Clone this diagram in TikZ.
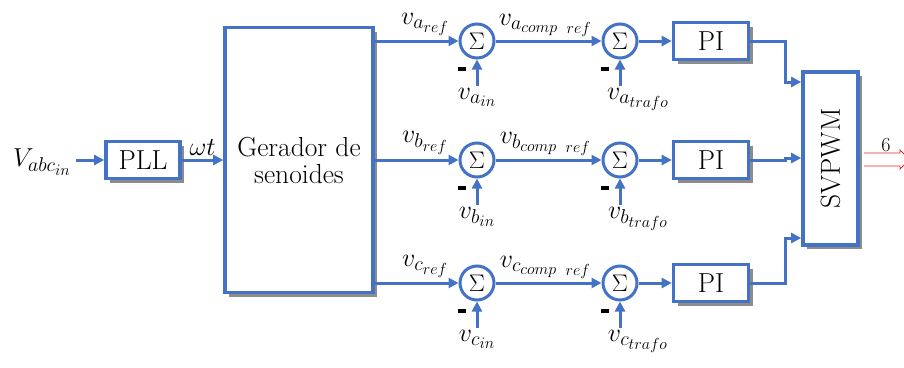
\RequirePackage{fix-cm}
\documentclass[tikz,border=0pt]{standalone}
\usepackage{fontspec}
\usetikzlibrary{arrows.meta,shadows,calc}
\DeclareMathSizes{26}{26}{20}{16}
\definecolor{bl}{HTML}{4472C4}
\definecolor{rd}{HTML}{E8262A}
\begin{document}
\begin{tikzpicture}[x=1pt,y=-1pt,
  blk/.style={draw=bl,line width=3.6pt,fill=white,inner sep=0pt,
    drop shadow={shadow xshift=4pt,shadow yshift=-4pt,fill=gray!90,opacity=1},
    font=\fontsize{27.5}{30}\selectfont},
  sumn/.style={circle,draw=bl,line width=3pt,fill=white,minimum size=34pt,inner sep=0pt,
    font=\fontsize{24}{26}\selectfont},
  ln/.style={draw=bl,line width=3pt},
  arr/.style={ln,-{Triangle[length=10pt,width=10pt]}},
  lbl/.style={font=\fontsize{26}{30}\selectfont,inner sep=0pt},
  mns/.style={inner sep=0pt}]
\useasboundingbox (0,0) rectangle (904,367);

\node[lbl] (vin) at (42,162) {$V_{abc_{in}}$};
\node[blk,minimum width=74pt,minimum height=37pt] (pll) at (143,160) {PLL};
\node[blk,minimum width=148pt,minimum height=265pt,align=center] (gen) at (299,160) {Gerador de\\[-3pt]senoides};
\node[blk,minimum width=55pt,minimum height=173pt] (svp) at (830.5,158.5) {\rotatebox{90}{SVPWM}};

\draw[arr] (vin.east)+(5,-2) -- (pll.west);
\draw[arr] (pll.east) -- (gen.west |- pll.east) node[lbl,midway,above=3pt] (wt) {$\omega t$};

\foreach \r/\y/\q in {a/41/82, b/160/158, c/283/238}{
  \node[sumn] (s1\r) at (477,\y) {$\Sigma$};
  \node[sumn] (s2\r) at (620,\y) {$\Sigma$};
  \node[blk,minimum width=75pt,minimum height=37pt] (pi\r) at (711,\y) {PI};
  \draw[arr] (gen.east |- s1\r) -- (s1\r.west)
     node[lbl,pos=0.6,above=4pt] (ref\r) {$v_{\r_{ref}}$};
  \draw[arr] (s1\r.east) -- (s2\r.west)
     node[lbl,pos=0.47,above=3pt] (cmp\r) {$v_{\r_{comp}{}_{\;\;ref}}$};
  \draw[arr] (s2\r.east) -- (pi\r.west);
  \coordinate (b1\r) at ($(s1\r.center)+(0,45)$);
  \coordinate (b2\r) at ($(s2\r.center)+(0,45)$);
  \draw[arr] (b1\r) -- (s1\r.south);
  \draw[arr] (b2\r) -- (s2\r.south);
  \node[lbl,below=2pt] (in\r) at (b1\r) {$v_{\r_{in}}$};
  \node[lbl,below=2pt,xshift=18pt] (tr\r) at (b2\r) {$v_{\r_{trafo}}$};
  \node[mns] (m1\r) at ($(s1\r.center)+(-15,28)$) {\rule{8pt}{3.5pt}};
  \node[mns] (m2\r) at ($(s2\r.center)+(-15,28)$) {\rule{8pt}{3.5pt}};
  \coordinate (k\r) at (785,\y);
  \coordinate (e\r) at (svp.west |- 0,\q);
  \draw[arr] (pi\r.east) -- (k\r) |- (e\r);
}

% output bus
\coordinate (o1) at (900,153);
\coordinate (o2) at (900,166);
\draw[rd,line width=0.9pt] (svp.east |- o1) ++(4,0) -- (o1) -- ++(0,-3) -- ++(4,4);
\draw[rd,line width=0.9pt] (svp.east |- o2) ++(4,0) -- (o2) -- ++(0,3) -- ++(4,-4);
\node[font=\fontsize{20}{24}\selectfont,inner sep=0pt] (six) at (886,145) {6};
\end{tikzpicture}
\end{document}
